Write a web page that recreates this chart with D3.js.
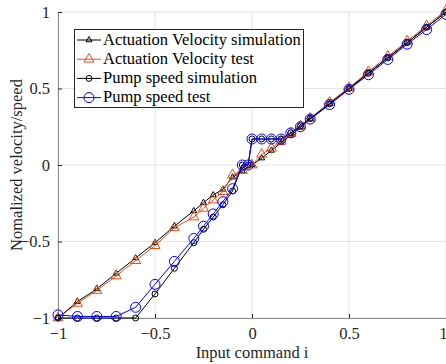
<!DOCTYPE html>
<html>
<head>
<meta charset="utf-8">
<script src="https://cdn.jsdelivr.net/npm/d3@7"></script>
<style>
  body { margin: 0; background: #fff; }
  text { font-family: "Liberation Serif", "Times New Roman", serif; }
</style>
</head>
<body>
<script>
// actuation velocity, sampled at these inputs
const actX = [-1, -0.9, -0.8, -0.7, -0.6, -0.5, -0.4, -0.3, -0.25, -0.2, -0.15, -0.1, -0.05, 0,
              0.05, 0.1, 0.15, 0.2, 0.25, 0.3, 0.4, 0.5, 0.6, 0.7, 0.8, 0.9, 1];
const actSim = [-1, -0.893, -0.81, -0.708, -0.608, -0.508, -0.40, -0.30, -0.246, -0.196, -0.159, -0.08, -0.04, 0,
                0.045, 0.095, 0.145, 0.195, 0.245, 0.3, 0.4, 0.5, 0.6, 0.7, 0.8, 0.9, 1];
const actTest = [-1, -0.904, -0.82, -0.725, -0.625, -0.527, -0.41, -0.34, -0.283, -0.229, -0.174, -0.065, -0.035, 0,
                 0.07, 0.11, 0.155, 0.205, 0.255, 0.305, 0.41, 0.505, 0.61, 0.71, 0.81, 0.91, 1.01];

// pump speed (extra sample just before 0 where it jumps)
const pumpX = [-1, -0.9, -0.8, -0.7, -0.6, -0.5, -0.4, -0.3, -0.25, -0.2, -0.15, -0.1, -0.05, -0.02, 0,
               0.05, 0.1, 0.15, 0.2, 0.25, 0.3, 0.4, 0.5, 0.6, 0.7, 0.8, 0.9, 1];
const pumpSim = [-1, -1, -1, -1, -1, -0.843, -0.675, -0.508, -0.42, -0.34, -0.26, -0.17, 0, 0, 0.17,
                 0.17, 0.17, 0.17, 0.21, 0.255, 0.305, 0.4, 0.5, 0.6, 0.7, 0.8, 0.9, 1];
const pumpTest = [-0.98, -0.99, -0.99, -0.99, -0.93, -0.78, -0.63, -0.48, -0.40, -0.32, -0.24, -0.155, 0, 0, 0.17,
                  0.17, 0.17, 0.17, 0.21, 0.25, 0.3, 0.395, 0.495, 0.59, 0.69, 0.79, 0.885, 0.985];

const xTicks = [-1, -0.5, 0, 0.5, 1];
const yTicks = [-1, -0.5, 0, 0.5, 1];

const series = [
  { name: "Actuation Velocity simulation", xs: actX, ys: actSim, color: "#000000", marker: "tri", size: 6 },
  { name: "Actuation Velocity test", xs: actX, ys: actTest, color: "#D95319", marker: "tri", size: 10 },
  { name: "Pump speed simulation", xs: pumpX, ys: pumpSim, color: "#000000", marker: "circ", size: 3 },
  { name: "Pump speed test", xs: pumpX, ys: pumpTest, color: "#0000FF", marker: "circ", size: 5 }
];

const W = 446, H = 364;
const margin = { top: 12, right: 0, bottom: 46, left: 58 };
const width = W - margin.left - margin.right,
      height = H - margin.top - margin.bottom;
const fontSize = "16.5px";

const x = d3.scaleLinear().domain([-1, 1]).range([0, width]);
const y = d3.scaleLinear().domain([-1, 1]).range([height, 0]);

const svg = d3.select("body").append("svg")
  .attr("width", W)
  .attr("height", H);

const g = svg.append("g")
  .attr("transform", `translate(${margin.left},${margin.top})`);

// grid
g.append("g").selectAll("line").data(xTicks).enter().append("line")
  .attr("x1", d => x(d)).attr("x2", d => x(d))
  .attr("y1", 0).attr("y2", height)
  .attr("stroke", "#e3e3e3").attr("stroke-width", 1);
g.append("g").selectAll("line").data(yTicks).enter().append("line")
  .attr("x1", 0).attr("x2", width)
  .attr("y1", d => y(d)).attr("y2", d => y(d))
  .attr("stroke", "#e3e3e3").attr("stroke-width", 1);

// axes (ticks point inward like matlab)
const xAxis = g.append("g")
  .attr("transform", `translate(0,${height})`)
  .call(d3.axisBottom(x).tickValues(xTicks).tickSize(-4).tickPadding(9).tickFormat(d3.format("")));
const yAxis = g.append("g")
  .call(d3.axisLeft(y).tickValues(yTicks).tickSize(-4).tickPadding(8).tickFormat(d3.format("")));

[xAxis, yAxis].forEach(a => {
  a.select(".domain").attr("stroke", "#8c8c8c");
  a.selectAll(".tick line").attr("stroke", "#262626");
  a.selectAll(".tick text")
    .attr("fill", "#262626")
    .style("font-family", "Liberation Serif")
    .style("font-size", fontSize);
});
// last x label sits on the window edge, keep it inside
xAxis.selectAll(".tick text").filter(d => d === 1)
  .attr("text-anchor", "end").attr("x", 1);

svg.append("text")
  .attr("x", margin.left + width / 2)
  .attr("y", 358)
  .attr("text-anchor", "middle")
  .attr("fill", "#262626")
  .style("font-size", fontSize)
  .text("Input command i");

svg.append("text")
  .attr("transform", `translate(18,${margin.top + height / 2}) rotate(-90)`)
  .attr("text-anchor", "middle")
  .attr("dominant-baseline", "middle")
  .attr("fill", "#262626")
  .style("font-size", fontSize)
  .text("Nomalized velocity/speed");

function triPath(s) {
  const area = s * s * Math.sqrt(3) / 4;
  return d3.symbol().type(d3.symbolTriangle).size(area)();
}

function drawMarker(sel, s, cx, cy) {
  if (s.marker === "tri") {
    sel.append("path")
      .attr("d", triPath(s.size))
      .attr("transform", `translate(${cx},${cy})`)
      .attr("fill", "none")
      .attr("stroke", s.color)
      .attr("stroke-width", 1);
  } else {
    sel.append("circle")
      .attr("cx", cx).attr("cy", cy).attr("r", s.size)
      .attr("fill", "none")
      .attr("stroke", s.color)
      .attr("stroke-width", 1);
  }
}

const line = d3.line().x(d => x(d[0])).y(d => y(d[1]));

series.forEach(s => {
  const pts = s.xs.map((v, i) => [v, s.ys[i]]);
  const sg = g.append("g");
  sg.append("path")
    .datum(pts)
    .attr("d", line)
    .attr("fill", "none")
    .attr("stroke", s.color)
    .attr("stroke-width", 1);
  pts.forEach(p => drawMarker(sg, s, x(p[0]), y(p[1])));
});

// legend
const lg = svg.append("g").attr("transform", "translate(74,29)");
lg.append("rect")
  .attr("x", 0.5).attr("y", 0.5)
  .attr("width", 229).attr("height", 78)
  .attr("fill", "#fff")
  .attr("stroke", "#262626")
  .attr("stroke-width", 1);

series.forEach((s, i) => {
  const cy = 11 + i * 19.2;
  lg.append("line")
    .attr("x1", 3).attr("x2", 27)
    .attr("y1", cy).attr("y2", cy)
    .attr("stroke", s.color).attr("stroke-width", 1);
  drawMarker(lg, s, 15, cy);
  lg.append("text")
    .attr("x", 29)
    .attr("y", cy + 1)
    .attr("dominant-baseline", "middle")
    .attr("fill", "#000")
    .style("font-size", fontSize)
    .text(s.name);
});
</script>
</body>
</html>
